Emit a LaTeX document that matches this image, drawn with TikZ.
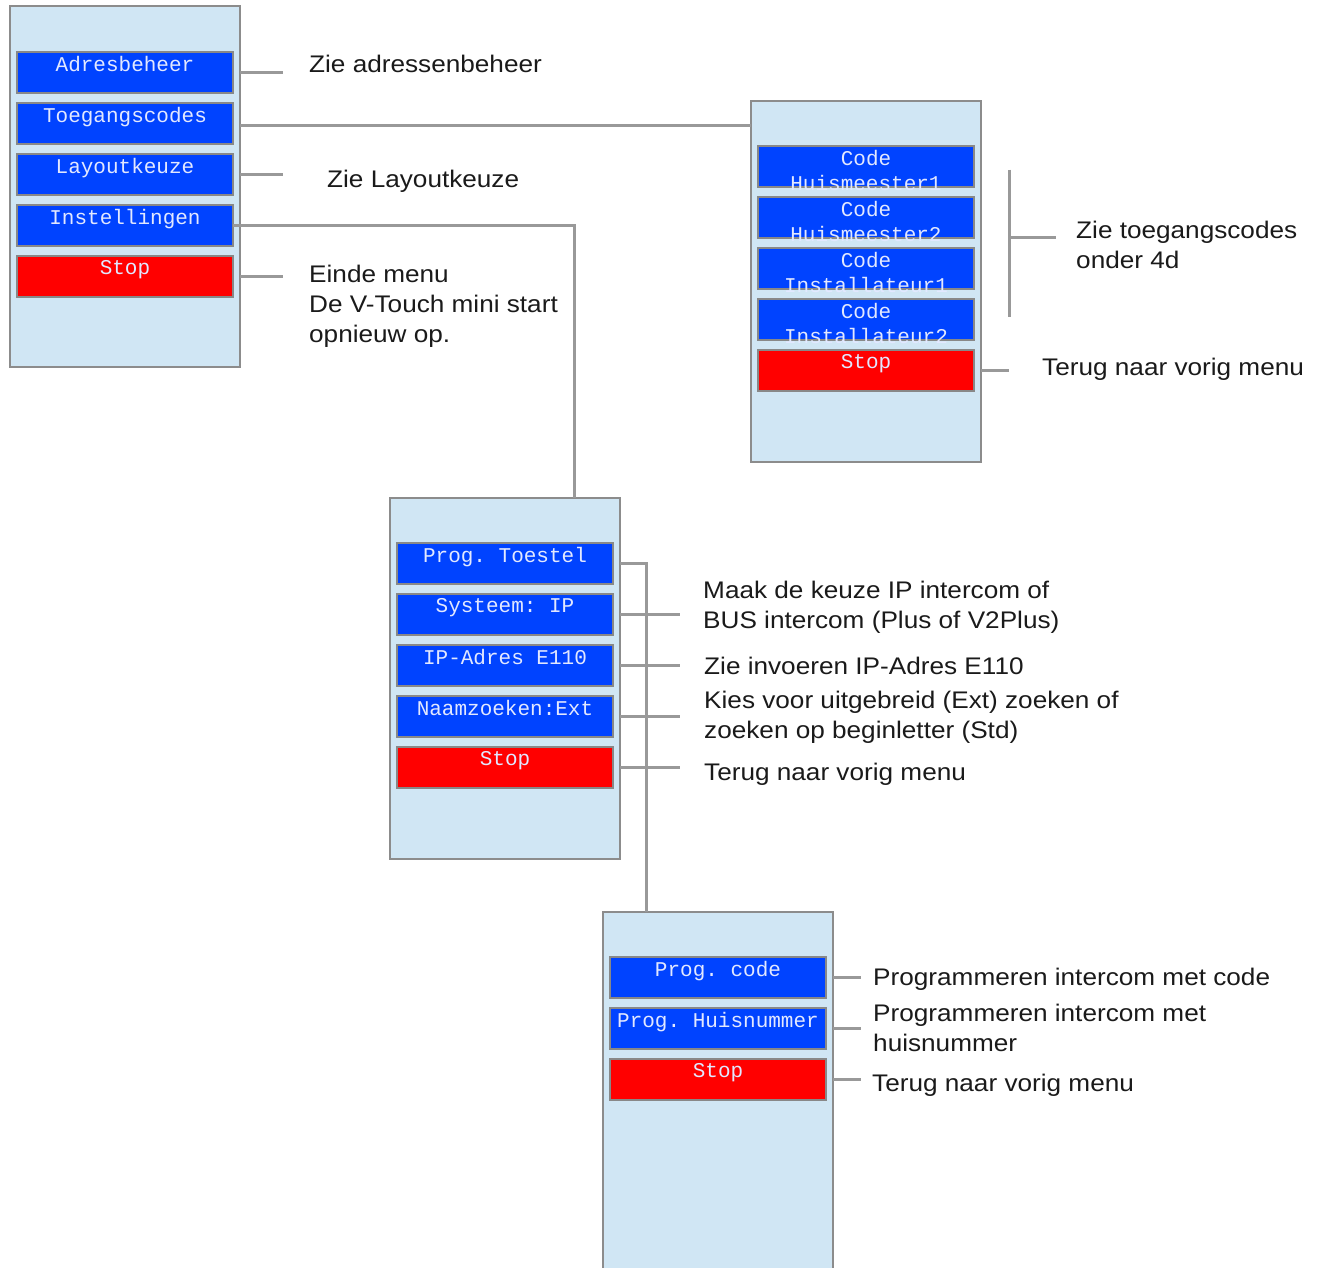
\documentclass[tikz,border=0pt]{standalone}
\usepackage{fontspec}
\newfontfamily\labelfamily[FakeStretch=1.09]{Liberation Sans}
\newfontfamily\btnfamily{Liberation Mono}
\usepackage{xcolor}
\usetikzlibrary{positioning, calc}
\definecolor{panelfill}{HTML}{D0E6F4}
\definecolor{panelline}{HTML}{8C8C8C}
\definecolor{btnblue}{HTML}{0043FF}
\definecolor{btnred}{HTML}{FF0000}
\definecolor{btnline}{HTML}{888888}
\definecolor{btntext}{HTML}{E2E8FF}
\definecolor{linkgray}{HTML}{999999}
\definecolor{infotext}{HTML}{1A1A1A}

\begin{document}
\begin{tikzpicture}[
    x=1pt, y=-1pt,
    panel/.style={rectangle, draw=panelline, fill=panelfill, line width=2pt, minimum width=230pt, minimum height=361pt, anchor=north west, inner sep=0pt, outer sep=0pt},
    btn/.style={rectangle, draw=btnline, fill=btnblue, line width=1.5pt, minimum width=216pt, minimum height=41pt, inner sep=0pt, outer sep=0pt, label={[btntext]north:{#1}}},
    stopbtn/.style={btn=#1, fill=btnred},
    btntext/.style={anchor=north, inner sep=4pt, font=\btnfamily\fontsize{21}{25}\selectfont\frenchspacing, text=btntext, align=center},
    info/.style={anchor=base west, inner sep=0pt, font=\labelfamily\fontsize{24}{30}\selectfont, text=infotext, align=left},
    link/.style={draw=linkgray, line width=3pt}
]
\useasboundingbox (0,0) rectangle (1325,1267);

\node[panel] (menu) at (10,6) {};
\node[btn=Adresbeheer, anchor=north west] (adres) at ([xshift=7pt, yshift=-46pt]menu.north west) {};
\node[btn=Toegangscodes, below=10pt of adres] (toegang) {};
\node[btn=Layoutkeuze, below=10pt of toegang] (layout) {};
\node[btn=Instellingen, below=10pt of layout] (instel) {};
\node[stopbtn=Stop, below=10pt of instel] (menustop) {};

\node[panel] (codes) at (751,101) {};
\node[btn={Code\\Huismeester1}, anchor=north west] (huis1) at ([xshift=7pt, yshift=-45pt]codes.north west) {};
\node[btn={Code\\Huismeester2}, below=10pt of huis1] (huis2) {};
\node[btn={Code\\Installateur1}, below=10pt of huis2] (inst1) {};
\node[btn={Code\\Installateur2}, below=10pt of inst1] (inst2) {};
\node[stopbtn=Stop, below=10pt of inst2] (codesstop) {};

\node[panel] (setup) at (390,498) {};
\node[btn=Prog. Toestel, anchor=north west] (toestel) at ([xshift=7pt, yshift=-45pt]setup.north west) {};
\node[btn=Systeem: IP, below=10pt of toestel] (systeem) {};
\node[btn=IP-Adres E110, below=10pt of systeem] (ipadres) {};
\node[btn=Naamzoeken:Ext, below=10pt of ipadres] (naam) {};
\node[stopbtn=Stop, below=10pt of naam] (setupstop) {};

\node[panel, minimum height=368pt] (prog) at (603,912) {};
\node[btn=Prog. code, anchor=north west] (progcode) at ([xshift=7pt, yshift=-45pt]prog.north west) {};
\node[btn=Prog. Huisnummer, below=10pt of progcode] (proghuis) {};
\node[stopbtn=Stop, below=10pt of proghuis] (progstop) {};

\node[info] (adresinfo) at (309,72) {Zie adressenbeheer};
\node[info] (layoutinfo) at (327,187) {Zie Layoutkeuze};
\node[info] (stopinfo) at (309,342) {Einde menu\\De V-Touch mini start\\opnieuw op.};
\node[info] (codesinfo) at (1076,268) {Zie toegangscodes\\onder 4d};
\node[info] (codesstopinfo) at (1042,375) {Terug naar vorig menu};
\node[info] (systeeminfo) at (703,628) {Maak de keuze IP intercom of\\BUS intercom (Plus of V2Plus)};
\node[info] (ipinfo) at (704,674) {Zie invoeren IP-Adres E110};
\node[info] (naaminfo) at (704,738) {Kies voor uitgebreid (Ext) zoeken of\\zoeken op beginletter (Std)};
\node[info] (setupstopinfo) at (704,780) {Terug naar vorig menu};
\node[info] (codeinfo) at (873,985) {Programmeren intercom met code};
\node[info] (huisinfo) at (873,1051) {Programmeren intercom met\\huisnummer};
\node[info] (progstopinfo) at (872,1091) {Terug naar vorig menu};

\draw[link] (adres.east -| menu.east) -- ++(43pt,0) coordinate (adresend);
\draw[link] ([yshift=-2pt]toegang.east -| menu.east) -- ([yshift=-2pt]toegang.east -| codes.west);
\draw[link] (layout.east -| menu.east) -- ++(43pt,0) coordinate (layoutend);
\draw[link] (instel.east) -| ([xshift=-46pt]setup.north east);
\draw[link] (menustop.east -| menu.east) -- ++(43pt,0) coordinate (menustopend);

\coordinate (brtop) at ([xshift=35pt, yshift=-3pt]huis1.east);
\coordinate (brbot) at ([xshift=35pt, yshift=3pt]inst2.east);
\draw[link] (brtop) -- (brbot);
\draw[link] ($(brtop)!0.46!(brbot)$) -- ++(47pt,0) coordinate (brend);
\draw[link] (codesstop.east -| codes.east) -- ++(28pt,0) coordinate (codesstopend);

\draw[link] (toestel.east -| setup.east) -| ([xshift=43pt]prog.north west);
\draw[link] (systeem.east -| setup.east) -- ++(60pt,0) coordinate (systeemend);
\draw[link] (ipadres.east -| setup.east) -- ++(60pt,0) coordinate (ipend);
\draw[link] (naam.east -| setup.east) -- ++(60pt,0) coordinate (naamend);
\draw[link] (setupstop.east -| setup.east) -- ++(60pt,0) coordinate (setupstopend);

\draw[link] (progcode.east -| prog.east) -- ++(28pt,0) coordinate (codeend);
\draw[link] (proghuis.east -| prog.east) -- ++(28pt,0) coordinate (huisend);
\draw[link] (progstop.east -| prog.east) -- ++(28pt,0) coordinate (progstopend);
\end{tikzpicture}
\end{document}
